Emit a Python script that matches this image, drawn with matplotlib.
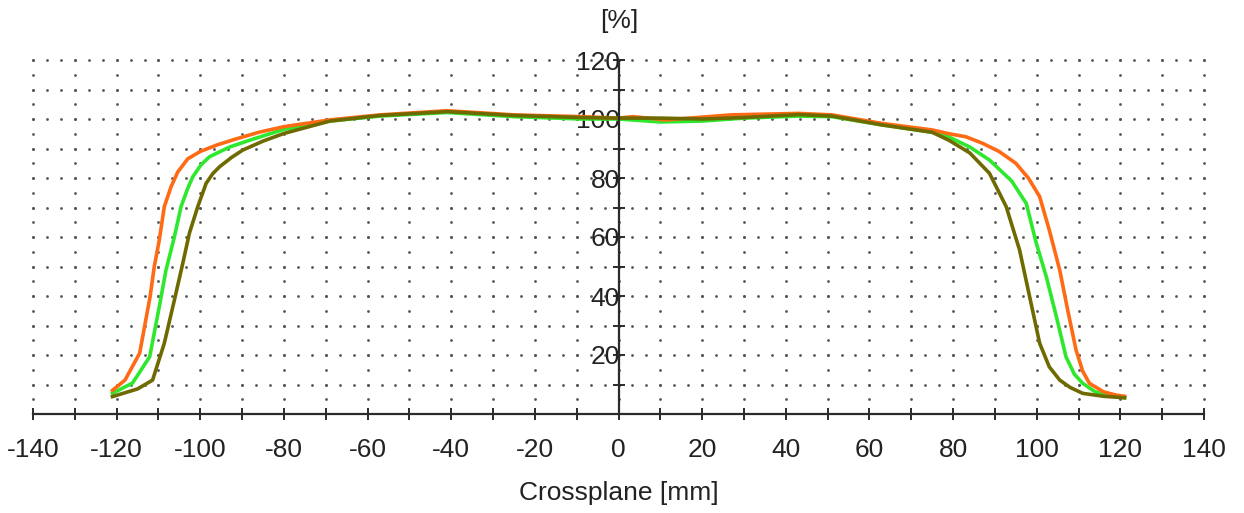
import numpy as np
import matplotlib
matplotlib.use("Agg")
import matplotlib.pyplot as plt

# crossplane dose profiles, three field sizes
x_orange = [-121, -118, -114.5, -112, -111, -109.8, -108.6, -107, -105.4, -103, -100, -96, -92, -86, -80,
            -69, -57, -41, -25, -9, 0, 3.4, 11.4, 27, 43, 51, 63, 75, 79, 83, 87, 91,
            95, 98, 100.7, 103, 105.5, 107.4, 109.4, 111, 112.6, 116, 119, 121]
y_orange = [8, 11.5, 20.6, 39.8, 50, 59, 70.3, 77, 82, 86.5, 89, 91.2, 93, 95.5, 97.4,
            99.7, 101.4, 102.8, 101.4, 100.8, 100.3, 100.8, 99.7, 101.4, 101.9, 101.4, 98.5, 96.3, 95, 94, 91.8, 89,
            85, 80, 73.7, 62.4, 48.8, 35.3, 21.7, 14.5, 10.4, 7.5, 6.4, 6]

x_green = [-121, -116.2, -112.1, -109.8, -108.2, -106.2, -104.6, -103, -101.8, -99.8, -97.8, -93, -88, -80,
           -69, -57, -41, -25, -9, 0, 10, 20, 30, 43, 51, 63, 75, 79, 84, 88.7, 94,
           97.5, 99.9, 102.3, 104.7, 107, 109, 111, 114, 117.4, 121]
y_green = [7, 10.5, 19.4, 36.4, 48.8, 60, 70.3, 76.5, 80.4, 84.5, 87.2, 90.5, 92.9, 96.5,
           99.3, 101, 102.2, 100.8, 100, 100, 99, 99.3, 100.3, 101, 100.8, 98, 95.5, 93.9, 90.5, 86.1, 79,
           71.4, 57.9, 46.5, 33, 19.4, 13.5, 10.4, 7.5, 6.4, 5.5]

x_olive = [-121, -115, -111.4, -108.6, -106.2, -104.2, -102.6, -100.6, -98.6, -97, -95.4, -92.5, -89.8, -85, -80,
           -69, -57, -41, -25, -9, 0, 10, 20, 30, 43, 51, 63, 75, 79, 84, 88.7,
           92.7, 95.9, 98.3, 100.7, 103, 105.5, 108, 111, 116, 121]
y_olive = [5.9, 8.5, 11.5, 24, 38.6, 51, 61.3, 70.3, 78.2, 81.5, 83.8, 87, 89.5, 92.5, 95.1,
           99.3, 101.2, 102.5, 101.2, 100.5, 100.3, 100.3, 100, 100.5, 101.5, 101, 98, 95.5, 92.8, 88.5, 81.6,
           70.3, 55.6, 39.8, 24, 16, 11.5, 9, 7, 6, 5.5]

x_ticks = list(range(-140, 141, 20))
y_ticks = [20, 40, 60, 80, 100, 120]

plt.rcParams["font.family"] = ["Liberation Sans", "DejaVu Sans"]
plt.rcParams["axes.unicode_minus"] = False

fig = plt.figure(figsize=(12.44, 5.13), dpi=100)
ax = fig.add_axes([33 / 1244, 99 / 513, 1171 / 1244, 354 / 513])
ax.set_xlim(-140, 140)
ax.set_ylim(0, 120)

# dotted grid drawn as individual dots
gx, gy = np.meshgrid(np.arange(-140, 141, 10), np.arange(5, 121, 5))
ax.scatter(gx.ravel(), gy.ravel(), s=4, color="#555555", lw=0, clip_on=False, zorder=1)
hx, hy = np.meshgrid(np.arange(-140, 140.1, 10 / 3), np.arange(10, 121, 10))
ax.scatter(hx.ravel(), hy.ravel(), s=4, color="#555555", lw=0, clip_on=False, zorder=1)

ax.plot(x_green, y_green, color="#2ee82e", lw=2.6, clip_on=False, zorder=3)
ax.plot(x_orange, y_orange, color="#ff6a14", lw=2.6, clip_on=False, zorder=3)
ax.plot(x_olive, y_olive, color="#6e6a00", lw=2.6, clip_on=False, zorder=4)

for s in ["top", "right"]:
    ax.spines[s].set_visible(False)
ax.spines["left"].set_position(("data", 0))
ax.spines["left"].set_bounds(0, 120)
ax.spines["bottom"].set_position(("data", 0))
for s in ["left", "bottom"]:
    ax.spines[s].set_color("#2b2b2b")
    ax.spines[s].set_linewidth(1.6)
    ax.spines[s].set_zorder(5)

ax.set_xticks(x_ticks)
ax.set_xticks(range(-140, 141, 10), minor=True)
ax.set_yticks(y_ticks)
ax.set_yticks(range(10, 121, 10), minor=True)
ax.tick_params(which="both", direction="inout", length=8, width=1.4, color="#2b2b2b")
ax.tick_params(axis="x", which="major", labelsize=19, pad=13, labelcolor="#222222")
ax.tick_params(axis="y", which="major", labelsize=19, pad=-5, labelcolor="#222222")

fig.text(619 / 1244, 1 - 21 / 513, "[%]", ha="center", va="center", fontsize=19, color="#222222")
fig.text(619 / 1244, 1 - 493 / 513, "Crossplane [mm]", ha="center", va="center", fontsize=19, color="#222222")

fig.savefig("out.png", dpi=100)
